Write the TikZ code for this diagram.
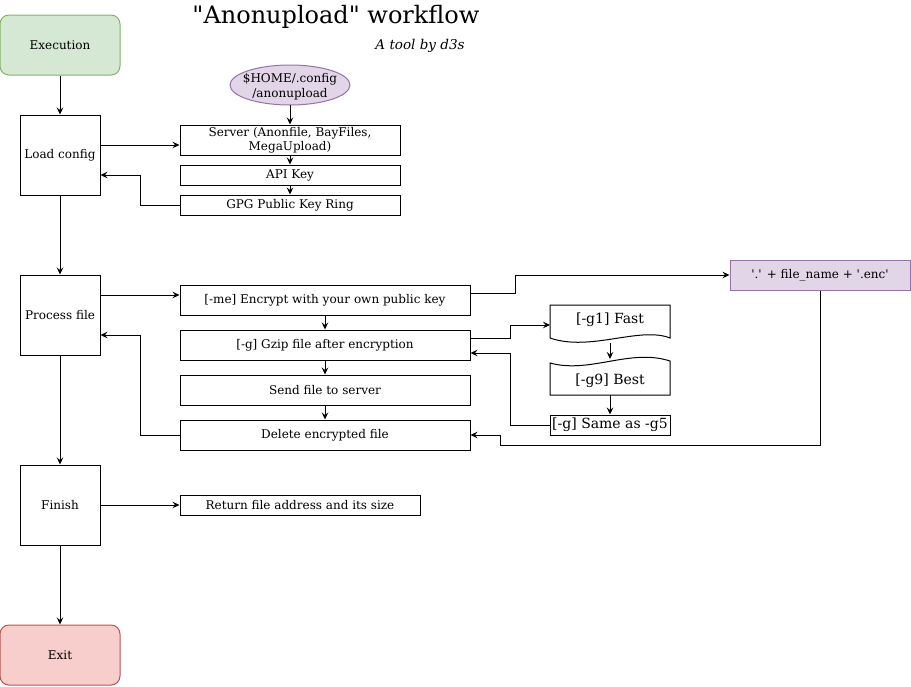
\documentclass[tikz,border=0pt]{standalone}
\usepackage{fontspec}
\newfontfamily\dv{DejaVu Serif}
\usetikzlibrary{arrows.meta,shapes.geometric}
\definecolor{gfill}{HTML}{D5E8D4}
\definecolor{gline}{HTML}{82B366}
\definecolor{rfill}{HTML}{F8CECC}
\definecolor{rline}{HTML}{B85450}
\definecolor{pfill}{HTML}{E1D5E7}
\definecolor{pline}{HTML}{9673A6}
\begin{document}
\begin{tikzpicture}[x=1pt,y=-1pt,
  box/.style={draw, line width=1pt, inner sep=0pt, align=center, font=\dv\fontsize{12}{14}\selectfont},
  term/.style={box, rounded corners=9pt, minimum width=120pt, minimum height=60pt},
  big/.style={box, minimum width=80pt, minimum height=80pt},
  gtext/.style={inner sep=0pt, font=\dv\fontsize{14}{16}\selectfont},
  arr/.style={-{Stealth[length=7pt,width=6.5pt,inset=2.5pt]}, line width=1pt},
  ln/.style={line width=1pt}]
\useasboundingbox (0,0) rectangle (911,686);

% title
\node[font=\dv\fontsize{24}{28}\selectfont] (title) at (336,17) {"Anonupload" workflow};
\node[font=\dv\itshape\fontsize{13.5}{16}\selectfont] (sub) at (420,46) {A tool by d3s};

% main column
\node[term, fill=gfill, draw=gline] (exec) at (60,45) {Execution};
\node[big] (load) at (60,155) {Load config};
\node[big] (proc) at (60,315) {Process file};
\node[big] (fin) at (60,505) {Finish};
\node[term, fill=rfill, draw=rline] (exit) at (60,655) {Exit};

% config
\draw[line width=1pt, fill=pfill, draw=pline] (290,85) ellipse [x radius=60, y radius=20];
\node[inner sep=0pt, align=center, minimum width=120pt, minimum height=40pt, font=\dv\fontsize{12}{15}\selectfont] (cfg) at (290,86.5) {\$HOME/.config\\/anonupload};
\coordinate (cfgb) at (290,105);
\node[box, minimum width=220pt, minimum height=30pt] (server) at (290,140) {Server (Anonfile, BayFiles,\\MegaUpload)};
\node[box, minimum width=220pt, minimum height=20pt] (api) at (290,175) {API Key};
\node[box, minimum width=220pt, minimum height=20pt] (gpg) at (290,205) {GPG Public Key Ring};

% process
\node[box, minimum width=290pt, minimum height=30pt] (enc) at (325,300) {[-me] Encrypt with your own public key};
\node[box, minimum width=290pt, minimum height=30pt] (gzip) at (325,345) {[-g] Gzip file after encryption};
\node[box, minimum width=290pt, minimum height=30pt] (send) at (325,390) {Send file to server};
\node[box, minimum width=290pt, minimum height=30pt] (del) at (325,435) {Delete encrypted file};
\node[box, fill=pfill, draw=pline, minimum width=180pt, minimum height=30pt] (fname) at (820,275) {'.' + file\_name + '.enc'};

% gzip levels
\draw[ln] (550,338) -- (550,305) -- (670,305) -- (670,338)
  .. controls (640,326) and (590,352) .. (550,338);
\node[gtext] (g1) at (610,320) {[-g1] Fast};
\coordinate (g1b) at (610,343);
\draw[ln] (550,363) .. controls (590,374) and (630,348) .. (670,361)
  -- (670,395) -- (550,395) -- cycle;
\node[gtext] (g9) at (610,381) {[-g9] Best};
\coordinate (g9t) at (610,359);
\coordinate (g9b) at (610,395);
\node[box, minimum width=120pt, minimum height=20pt, font=\dv\fontsize{14}{16}\selectfont] (g5) at (610,425) {[-g] Same as -g5};
\coordinate (g1l) at (550,325);

% return
\node[box, minimum width=240pt, minimum height=20pt] (ret) at (300,505) {Return file address and its size};

% arrows main
\draw[arr] (exec) -- (load);
\draw[arr] (load) -- (proc);
\draw[arr] (proc) -- (fin);
\draw[arr] (fin) -- (exit);

% config arrows
\draw[arr] (load.east |- 0,145) -- (server.west |- 0,145);
\draw[arr] (gpg.west) -- (140,205) -- (140,175) -- (load.east |- 0,175);
\draw[arr] (cfgb) -- (server);
\draw[arr] (server) -- (api);
\draw[arr] (api) -- (gpg);

% process arrows
\draw[arr] (proc.east |- 0,295) -- (enc.west |- 0,295);
\draw[arr] (enc) -- (gzip);
\draw[arr] (gzip) -- (send);
\draw[arr] (send) -- (del);
\draw[arr] (del.west) -- (140,435) -- (140,335) -- (proc.east |- 0,335);
\draw[arr] (enc.east |- 0,293) -- (515,293) -- (515,275) -- (fname.west);
\draw[arr] (fname.south) -- (820,445) -- (500,445) -- (500,435) -- (del.east);
\draw[arr] (gzip.east |- 0,338) -- (510,338) -- (510,325) -- (g1l);
\draw[arr] (g5.west) -- (510,425) -- (510,353) -- (gzip.east |- 0,353);
\draw[arr] (g1b) -- (g9t);
\draw[arr] (g9b) -- (g5);

% finish
\draw[arr] (fin) -- (ret);
\end{tikzpicture}
\end{document}
